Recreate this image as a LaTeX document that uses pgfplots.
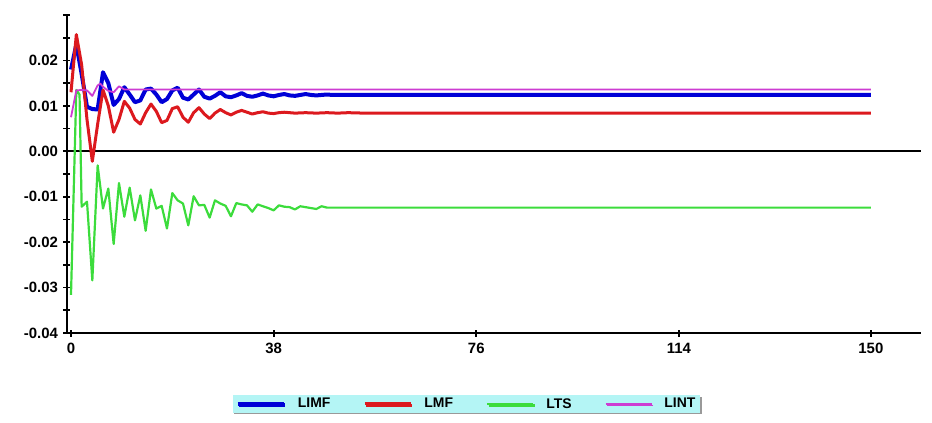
\documentclass[border=0pt]{standalone}
\usepackage{fontspec}
\setmainfont{Liberation Sans}
\usepackage{pgfplots}
\pgfplotsset{compat=1.18}
\usetikzlibrary{shadows}

\definecolor{cLIMF}{RGB}{0,0,215}
\definecolor{cLMF}{RGB}{220,25,30}
\definecolor{cLTS}{RGB}{60,220,60}
\definecolor{cLINT}{RGB}{205,60,210}
\definecolor{legbg}{RGB}{180,245,245}

\begin{document}
\begin{tikzpicture}
\begin{axis}[
    scale only axis,
    width=854bp, height=318bp,
    xmin=-0.75, xmax=159.4,
    ymin=-0.04, ymax=0.03,
    axis lines=left,
    axis line style={line width=2.2bp, -},
    scaled y ticks=false,
    xtick={0,38,76,114,150},
    ytick={-0.04,-0.03,...,0.03},
    minor ytick={-0.035,-0.025,...,0.03},
    yticklabels={-0.04,-0.03,-0.02,-0.01,0.00,0.01,0.02,},
    tick align=center,
    major tick length=7bp,
    minor tick length=7bp,
    every tick/.style={black, line width=1.8bp},
    minor tick style={black, line width=1.8bp},
    tick label style={font=\fontsize{15}{17}\selectfont\bfseries},
    /pgf/number format/assume math mode=true,
    xticklabel style={yshift=-3bp},
    yticklabel style={xshift=-2bp},
    clip=false,
    legend columns=4,
    legend style={at={(0.468,-0.223)}, anchor=center,
        fill=legbg, draw=none, font=\fontsize{14}{16}\selectfont\bfseries,
        drop shadow={shadow xshift=1.5bp, shadow yshift=-1.5bp, fill=gray!80, opacity=1},
        inner xsep=3bp, inner ysep=1bp,
        /tikz/every odd column/.append style={column sep=10bp},
        /tikz/every even column/.append style={column sep=31bp}},
    legend image code/.code={\draw[#1] (0bp,0bp) -- (46bp,0bp);},
]
% zero line
\addplot[black, line width=1.6bp, forget plot] coordinates {(-0.75,0) (159.4,0)};

\addplot[cLIMF, line width=4bp, line join=round] coordinates {
(0,0.0180)(1,0.0235)(2,0.0170)(3,0.0098)(4,0.0093)(5,0.0092)(6,0.0174)(7,0.0150)
(8,0.0102)(9,0.0115)(10,0.0141)(11,0.0125)(12,0.0108)(13,0.0112)(14,0.0136)(15,0.0138)
(16,0.0125)(17,0.0108)(18,0.0115)(19,0.0134)(20,0.0140)(21,0.0118)(22,0.0114)(23,0.0125)
(24,0.0136)(25,0.0120)(26,0.0116)(27,0.0122)(28,0.0130)(29,0.0121)(30,0.0119)(31,0.0123)
(32,0.0128)(33,0.0122)(34,0.0120)(35,0.0123)(36,0.0127)(37,0.0123)(38,0.0121)(39,0.0124)
(40,0.0126)(41,0.0123)(42,0.0122)(43,0.0124)(44,0.0126)(45,0.0124)(46,0.0123)(47,0.0124)
(48,0.0125)(49,0.0124)(150,0.0124)};
\addlegendentry{LIMF}

\addplot[cLMF, line width=3bp, line join=round] coordinates {
(0,0.0130)(1,0.0257)(2,0.0190)(3,0.0070)(4,-0.0022)(5,0.0060)(6,0.0135)(7,0.0100)
(8,0.0042)(9,0.0070)(10,0.0110)(11,0.0095)(12,0.0070)(13,0.0060)(14,0.0085)(15,0.0104)
(16,0.0088)(17,0.0063)(18,0.0068)(19,0.0094)(20,0.0098)(21,0.0075)(22,0.0064)(23,0.0085)
(24,0.0096)(25,0.0082)(26,0.0072)(27,0.0084)(28,0.0092)(29,0.0085)(30,0.0080)(31,0.0086)
(32,0.0090)(33,0.0086)(34,0.0082)(35,0.0085)(36,0.0087)(37,0.0084)(38,0.0083)(39,0.0085)
(40,0.0086)(42,0.0084)(44,0.0085)(46,0.0084)(48,0.0085)(50,0.0084)(52,0.0085)(55,0.0084)
(150,0.0084)};
\addlegendentry{LMF}

\addplot[cLTS, line width=2.2bp, line join=round] coordinates {
(0,-0.0316)(1,0.0135)(1.6,0.0125)(2,-0.0122)(3,-0.0111)(4,-0.0284)(5,-0.0031)(6,-0.0126)
(7,-0.0082)(8,-0.0204)(9,-0.0070)(10,-0.0144)(11,-0.0080)(12,-0.0152)(13,-0.0097)
(14,-0.0175)(15,-0.0084)(16,-0.0126)(17,-0.0120)(18,-0.0170)(19,-0.0092)(20,-0.0108)
(21,-0.0115)(22,-0.0163)(23,-0.0099)(24,-0.0119)(25,-0.0118)(26,-0.0146)(27,-0.0108)
(28,-0.0115)(29,-0.0120)(30,-0.0143)(31,-0.0114)(32,-0.0117)(33,-0.0119)(34,-0.0133)
(35,-0.0117)(36,-0.0121)(37,-0.0125)(38,-0.0130)(39,-0.0119)(40,-0.0122)(41,-0.0123)
(42,-0.0128)(43,-0.0121)(44,-0.0123)(45,-0.0125)(46,-0.0127)(47,-0.0121)(48,-0.0124)
(150,-0.0124)};
\addlegendentry{LTS}

\addplot[cLINT, line width=1.8bp, line join=round] coordinates {
(0,0.0075)(1,0.0134)(2,0.0135)(3,0.0134)(4,0.0122)(5,0.0145)(5.5,0.0149)(6,0.0142)
(7,0.0133)(8,0.0130)(9,0.0143)(10,0.0136)(150,0.0136)};
\addlegendentry{LINT}
\end{axis}
\pgfresetboundingbox
\path (-67bp,-90bp) rectangle (865bp,333bp);
\end{tikzpicture}
\end{document}
